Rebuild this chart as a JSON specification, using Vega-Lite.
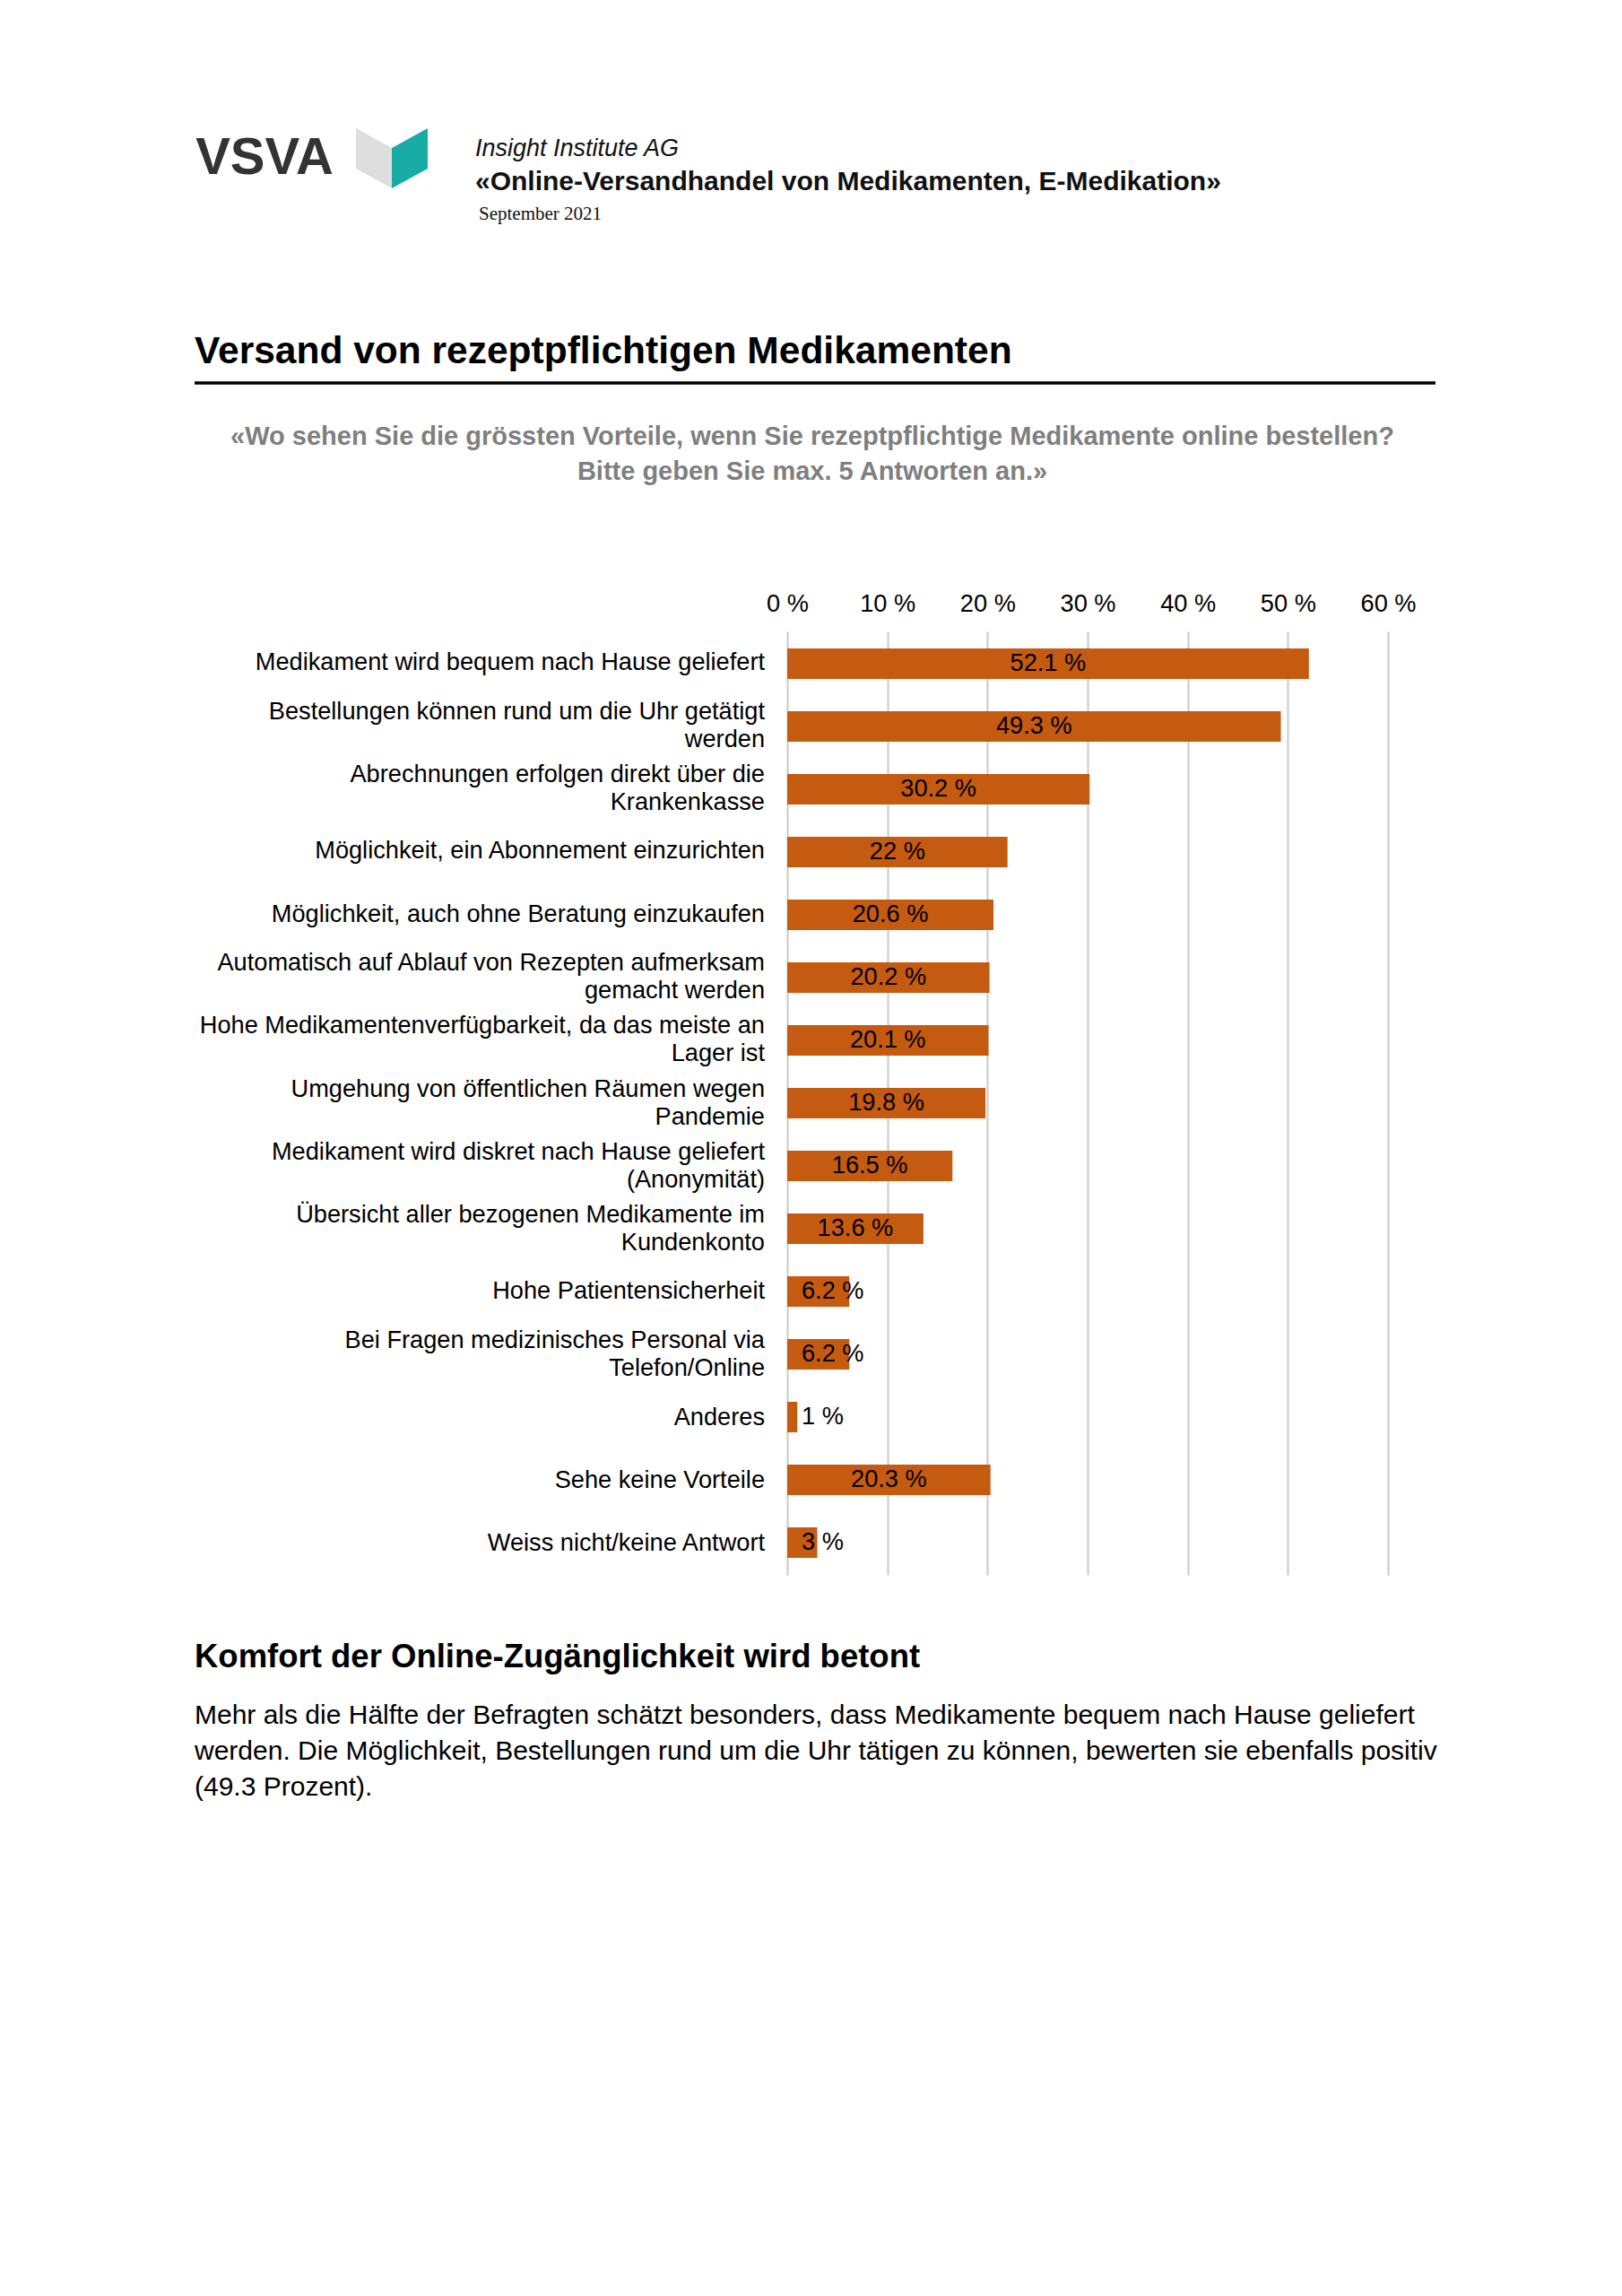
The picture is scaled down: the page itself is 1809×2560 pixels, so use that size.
{
  "$schema": "https://vega.github.io/schema/vega-lite/v6.json",
  "background": "white",
  "padding": {"left": 215, "top": 130, "right": 20, "bottom": 20},
  "config": {"view": {"stroke": null}, "font": "Liberation Sans"},
  "datasets": {
    "antworten": [
      {"kategorie": "Medikament wird bequem nach Hause geliefert", "anteil": 52.1},
      {"kategorie": "Bestellungen können rund um die Uhr getätigt\nwerden", "anteil": 49.3},
      {"kategorie": "Abrechnungen erfolgen direkt über die\nKrankenkasse", "anteil": 30.2},
      {"kategorie": "Möglichkeit, ein Abonnement einzurichten", "anteil": 22},
      {"kategorie": "Möglichkeit, auch ohne Beratung einzukaufen", "anteil": 20.6},
      {"kategorie": "Automatisch auf Ablauf von Rezepten aufmerksam\ngemacht werden", "anteil": 20.2},
      {"kategorie": "Hohe Medikamentenverfügbarkeit, da das meiste an\nLager ist", "anteil": 20.1},
      {"kategorie": "Umgehung von öffentlichen Räumen wegen\nPandemie", "anteil": 19.8},
      {"kategorie": "Medikament wird diskret nach Hause geliefert\n(Anonymität)", "anteil": 16.5},
      {"kategorie": "Übersicht aller bezogenen Medikamente im\nKundenkonto", "anteil": 13.6},
      {"kategorie": "Hohe Patientensicherheit", "anteil": 6.2},
      {"kategorie": "Bei Fragen medizinisches Personal via\nTelefon/Online", "anteil": 6.2},
      {"kategorie": "Anderes", "anteil": 1},
      {"kategorie": "Sehe keine Vorteile", "anteil": 20.3},
      {"kategorie": "Weiss nicht/keine Antwort", "anteil": 3}
    ]
  },
  "columns": 1,
  "spacing": 0,
  "align": "none",
  "bounds": "full",
  "concat": [
    {
      "hconcat": [
        {
          "hconcat": [
            {
              "width": 156,
              "height": 93,
              "data": {"values": [{"t": "VSVA"}]},
              "mark": {"type": "text", "font": "Liberation Sans", "fontWeight": "bold", "fontSize": 58, "color": "#333333", "align": "center", "baseline": "middle"},
              "encoding": {"text": {"field": "t", "type": "nominal"}}
            },
            {
              "width": 80,
              "height": 93,
              "data": {"values": [{"face": "links"}, {"face": "rechts"}]},
              "mark": {"type": "point", "filled": true, "opacity": 1, "size": 6400, "strokeWidth": 0},
              "encoding": {
                "shape": {"field": "face", "type": "nominal", "scale": {"domain": ["links", "rechts"], "range": ["M-1,-0.84L0,-0.29L0,0.84L-1,0.29Z", "M0,-0.29L1,-0.84L1,0.29L0,0.84Z"]}, "legend": null},
                "color": {"field": "face", "type": "nominal", "scale": {"domain": ["links", "rechts"], "range": ["#dedede", "#19aca6"]}, "legend": null}
              }
            }
          ],
          "spacing": 24
        },
        {
          "width": 900,
          "height": 227,
          "layer": [
            {
              "data": {"values": [{"zeile": "a", "t": "Insight Institute AG"}]},
              "mark": {"type": "text", "align": "left", "baseline": "middle", "x": 0, "font": "Liberation Sans", "fontStyle": "italic", "fontSize": 27, "color": "#111111"},
              "encoding": {
                "y": {"field": "zeile", "type": "nominal", "scale": {"type": "point", "domain": ["a", "b", "c"], "padding": 0, "range": [36, 109]}, "axis": null},
                "text": {"field": "t", "type": "nominal"}
              }
            },
            {
              "data": {"values": [{"zeile": "b", "t": "«Online-Versandhandel von Medikamenten, E-Medikation»"}]},
              "mark": {"type": "text", "align": "left", "baseline": "middle", "x": 0, "font": "Liberation Sans", "fontWeight": "bold", "fontSize": 30, "color": "#111111"},
              "encoding": {
                "y": {"field": "zeile", "type": "nominal", "scale": {"type": "point", "domain": ["a", "b", "c"], "padding": 0, "range": [36, 109]}, "axis": null},
                "text": {"field": "t", "type": "nominal"}
              }
            },
            {
              "data": {"values": [{"zeile": "c", "t": "September 2021"}]},
              "mark": {"type": "text", "align": "left", "baseline": "middle", "x": 0, "dx": 4, "font": "Liberation Serif", "fontSize": 21, "color": "#111111"},
              "encoding": {
                "y": {"field": "zeile", "type": "nominal", "scale": {"type": "point", "domain": ["a", "b", "c"], "padding": 0, "range": [36, 109]}, "axis": null},
                "text": {"field": "t", "type": "nominal"}
              }
            }
          ]
        }
      ],
      "spacing": 53
    },
    {
      "width": 1384,
      "height": 70,
      "layer": [
        {
          "data": {"values": [{"t": "Versand von rezeptpflichtigen Medikamenten"}]},
          "mark": {"type": "text", "align": "left", "baseline": "middle", "x": 0, "fontWeight": "bold", "fontSize": 42.5, "color": "#000000"},
          "encoding": {"text": {"field": "t", "type": "nominal"}}
        },
        {
          "data": {"values": [{"linie": 1}]},
          "mark": {"type": "rule", "strokeWidth": 3.5, "color": "#000000"},
          "encoding": {
            "x": {"value": 0},
            "x2": {"value": "width"},
            "y": {"value": "height"}
          }
        }
      ]
    },
    {
      "width": 1378,
      "height": 230,
      "data": {"values": [{"t": ["«Wo sehen Sie die grössten Vorteile, wenn Sie rezeptpflichtige Medikamente online bestellen?", "Bitte geben Sie max. 5 Antworten an.»"]}]},
      "mark": {"type": "text", "align": "center", "baseline": "middle", "dy": -57, "fontWeight": "bold", "fontSize": 29, "lineHeight": 39, "color": "#7f7f7f"},
      "encoding": {"text": {"field": "t", "type": "nominal"}}
    },
    {
      "hconcat": [
        {
          "width": 636,
          "height": 1052,
          "data": {"name": "antworten"},
          "mark": {
            "type": "text",
            "align": "right",
            "baseline": "middle",
            "x": "width",
            "fontSize": 27.2,
            "color": "#000000",
            "lineBreak": "\n",
            "lineHeight": 31,
            "dy": {"expr": "-(length(split(datum.kategorie, '\\n')) - 1) * 15.5"}
          },
          "encoding": {
            "y": {"field": "kategorie", "type": "nominal", "sort": null, "scale": {"paddingInner": 0.514, "paddingOuter": 0.272}, "axis": null},
            "text": {"field": "kategorie", "type": "nominal"}
          }
        },
        {
          "width": 670,
          "height": 1052,
          "data": {"name": "antworten"},
          "encoding": {
            "y": {"field": "kategorie", "type": "nominal", "sort": null, "scale": {"paddingInner": 0.514, "paddingOuter": 0.272}, "axis": null}
          },
          "layer": [
            {
              "mark": {"type": "bar", "color": "#c55a11"},
              "encoding": {
                "x": {
                  "field": "anteil",
                  "type": "quantitative",
                  "scale": {"domain": [0, 60], "nice": false},
                  "axis": {"orient": "top", "title": null, "values": [0, 10, 20, 30, 40, 50, 60], "labelExpr": "datum.value + ' %'", "labelFontSize": 27.2, "labelColor": "#000000", "labelPadding": 17, "labelFlush": false, "labelOverlap": false, "ticks": false, "domain": false, "grid": true, "gridColor": "#c9c9c9", "gridWidth": 2}
                }
              }
            },
            {
              "transform": [{"filter": "datum.anteil >= 10"}],
              "mark": {"type": "text", "align": "center", "baseline": "middle", "fontSize": 27.2, "color": "#000000", "text": {"expr": "datum.anteil + ' %'"}},
              "encoding": {
                "x": {"field": "anteil", "type": "quantitative", "scale": {"domain": [0, 120], "nice": false}, "axis": null}
              }
            },
            {
              "transform": [{"filter": "datum.anteil < 10"}],
              "mark": {"type": "text", "align": "left", "baseline": "middle", "x": 0, "dx": 16, "fontSize": 27.2, "color": "#000000", "text": {"expr": "datum.anteil + ' %'"}},
              "encoding": {}
            }
          ],
          "resolve": {"scale": {"x": "independent"}}
        }
      ],
      "spacing": 1
    },
    {
      "width": 1384,
      "height": 184,
      "layer": [
        {
          "data": {"values": [{"t": "Komfort der Online-Zugänglichkeit wird betont"}]},
          "mark": {"type": "text", "align": "left", "baseline": "middle", "x": 0, "fontWeight": "bold", "fontSize": 36.5, "color": "#000000"},
          "encoding": {"text": {"field": "t", "type": "nominal"}}
        },
        {
          "data": {"values": [{"t": ["Mehr als die Hälfte der Befragten schätzt besonders, dass Medikamente bequem nach Hause geliefert", "werden. Die Möglichkeit, Bestellungen rund um die Uhr tätigen zu können, bewerten sie ebenfalls positiv", "(49.3 Prozent)."]}]},
          "mark": {"type": "text", "align": "left", "baseline": "middle", "x": 0, "dy": 65, "fontSize": 30, "lineHeight": 40, "color": "#000000"},
          "encoding": {"text": {"field": "t", "type": "nominal"}}
        }
      ]
    }
  ]
}
